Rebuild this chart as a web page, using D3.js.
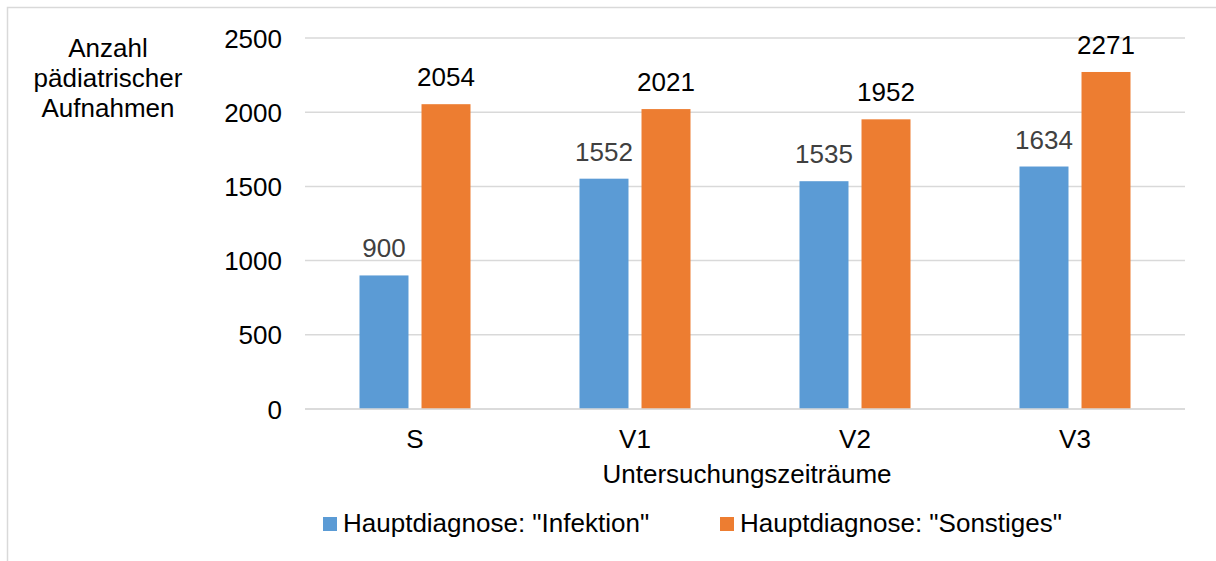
<!DOCTYPE html>
<html><head><meta charset="utf-8">
<script src="https://cdn.jsdelivr.net/npm/d3@7"></script>
<style>body{margin:0;background:#fff}svg{display:block;font-family:"Liberation Sans",Arial,sans-serif}text{font-weight:normal}</style>
</head><body><svg id="c" width="1216" height="561"></svg>
<script>
const categories = ["S","V1","V2","V3"];
const seriesNames = ['Hauptdiagnose: "Infektion"','Hauptdiagnose: "Sonstiges"'];
const infektion = [900,1552,1535,1634];
const sonstiges = [2054,2021,1952,2271];
const yTicks = [0,500,1000,1500,2000,2500];
const colors = ["#5b9bd5","#ed7d31"];
const labelColors = ["#404040","#000000"];
const FS = 26;
const FF = "Liberation Sans, Arial, sans-serif";

const svg = d3.select("#c");
svg.append("rect").attr("x",7.5).attr("y",7.5).attr("width",1220).attr("height",570)
  .attr("fill","none").attr("stroke","#d9d9d9").attr("stroke-width",1.5);

const x0 = d3.scaleBand().domain(categories).range([305,1185]).paddingInner(0).paddingOuter(0);
const x1 = d3.scaleBand().domain([0,1]).range([x0.bandwidth()/2-55.5, x0.bandwidth()/2+55.5]).paddingInner(0.21).paddingOuter(0);
const y = d3.scaleLinear().domain([0,2500]).range([409,38]);

// gridlines
svg.append("g").selectAll("line").data(yTicks).join("line")
  .attr("x1",305).attr("x2",1185).attr("y1",d=>y(d)).attr("y2",d=>y(d))
  .attr("stroke","#d9d9d9").attr("stroke-width",1.5);

// y axis labels
const yAxis = d3.axisLeft(y).tickValues(yTicks).tickSize(0).tickPadding(0).tickFormat(d3.format("d"));
const ya = svg.append("g").attr("transform","translate(282,0)").call(yAxis);
ya.select(".domain").remove();
ya.selectAll("text").attr("font-size",FS).attr("fill","#000").attr("font-family",FF).attr("dy","0.35em");

// x axis labels
const xAxis = d3.axisBottom(x0).tickSize(0).tickPadding(0);
const xa = svg.append("g").attr("transform","translate(0,0)").call(xAxis);
xa.select(".domain").remove();
xa.selectAll("text").attr("font-size",FS).attr("fill","#000").attr("font-family",FF).attr("y",448).attr("dy",null);

const data = [infektion, sonstiges];
const g = svg.append("g");
data.forEach((vals, si) => {
  g.append("g").selectAll("rect").data(vals).join("rect")
    .attr("x",(d,i)=>x0(categories[i])+x1(si))
    .attr("width",x1.bandwidth())
    .attr("y",d=>y(d)).attr("height",d=>y(0)-y(d))
    .attr("fill",colors[si]);
  g.append("g").selectAll("text").data(vals).join("text")
    .attr("x",(d,i)=>x0(categories[i])+x1(si)+x1.bandwidth()/2)
    .attr("y",d=>y(d)-18)
    .attr("text-anchor","middle").attr("font-size",FS).attr("fill",labelColors[si])
    .text(d=>d);
});

// axis line
svg.append("line").attr("x1",305).attr("x2",1185).attr("y1",y(0)).attr("y2",y(0))
  .attr("stroke","#d9d9d9").attr("stroke-width",1.5);

// y title
const yt = svg.append("text").attr("text-anchor","middle").attr("font-size",FS).attr("fill","#000");
["Anzahl","pädiatrischer","Aufnahmen"].forEach((t,i)=>{
  yt.append("tspan").attr("x",108).attr("y",57+i*30).text(t);
});

// x title
svg.append("text").attr("x",747).attr("y",483).attr("text-anchor","middle").attr("font-size",FS).attr("fill","#000")
  .text("Untersuchungszeiträume");

// legend
const legX = [323,720];
seriesNames.forEach((n,i)=>{
  svg.append("rect").attr("x",legX[i]).attr("y",517).attr("width",14).attr("height",14).attr("fill",colors[i]);
  svg.append("text").attr("x",legX[i]+20).attr("y",532).attr("font-size",FS).attr("fill","#000").text(n);
});
</script></body></html>
